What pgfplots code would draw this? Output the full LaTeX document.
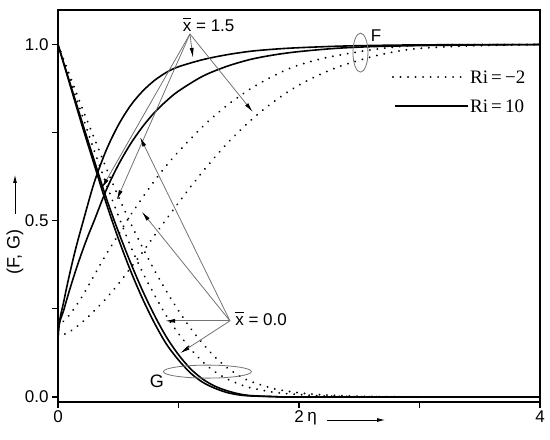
\documentclass[border=0pt]{standalone}
\usepackage{pgfplots}
\pgfplotsset{compat=1.18}
\usepackage{fontspec}
\setmainfont{Liberation Sans}
\newfontfamily\seriffont{Liberation Serif}
\usetikzlibrary{arrows.meta}
\tikzset{
  dotsty/.style={line width=2.1pt, dash pattern=on 0.01pt off 7.5pt, line cap=round, black},
  solsty/.style={line width=1.6pt, black},
  ann/.style={line width=0.8pt, black!55, -{Latex[length=10pt,width=4pt,color=black]}},
}
\newcommand{\xbar}{$\overline{\mbox{x}\vphantom{X}}$}
\begin{document}
\begin{tikzpicture}
\begin{axis}[
  width=482pt, height=392pt, scale only axis,
  xmin=0, xmax=4, ymin=-0.0142, ymax=1.098,
  axis line style={line width=1.6pt},
  xtick={0,1,2,3,4}, xticklabels={0,,2,,4},
  ytick={0,0.25,0.5,0.75,1}, yticklabels={0.0,,0.5,,1.0},
  tick align=outside, xtick pos=lower, ytick pos=left,
  major tick length=6pt,
  tick style={line width=1.2pt, black},
  every tick label/.append style={font=\fontsize{17}{20}\selectfont},
  xticklabel style={yshift=1pt},
  clip=true,
]
% Ri=10, F (solid)
\addplot[solsty, smooth] coordinates {(0,0) (0.003,0.185) (0.05,0.2745) (0.1,0.354) (0.15,0.425) (0.21,0.5) (0.3,0.608) (0.4,0.70) (0.5,0.771) (0.6,0.826) (0.7,0.867) (0.8,0.898) (0.9,0.921) (1.0,0.937) (1.2,0.957) (1.4,0.971) (1.6,0.981) (1.8,0.987) (2.0,0.991) (2.4,0.996) (3.0,0.999) (4,1)};
\addplot[solsty, smooth] coordinates {(0,0) (0.003,0.185) (0.05,0.249) (0.1,0.308) (0.15,0.362) (0.2,0.412) (0.25,0.458) (0.3,0.5) (0.4,0.587) (0.5,0.658) (0.6,0.717) (0.7,0.766) (0.8,0.807) (0.9,0.84) (1.0,0.868) (1.2,0.91) (1.4,0.938) (1.6,0.958) (1.8,0.971) (2.0,0.98) (2.3,0.989) (2.6,0.994) (3.0,0.997) (3.5,0.999) (4,1)};
% Ri=10, G (solid)
\addplot[solsty, smooth] coordinates {(0,1) (0.1,0.885) (0.2,0.77) (0.3,0.66) (0.4,0.55) (0.5,0.45) (0.6,0.36) (0.7,0.28) (0.8,0.21) (0.9,0.15) (1.0,0.105) (1.1,0.068) (1.2,0.042) (1.3,0.025) (1.4,0.013) (1.5,0.006) (1.6,0.003) (1.8,0.001) (2.0,0) (4.0,0)};
\addplot[solsty, smooth] coordinates {(0,1) (0.1,0.89) (0.2,0.78) (0.3,0.672) (0.4,0.565) (0.5,0.47) (0.6,0.383) (0.7,0.303) (0.8,0.232) (0.9,0.17) (1.0,0.12) (1.1,0.08) (1.2,0.051) (1.3,0.031) (1.4,0.018) (1.5,0.009) (1.6,0.004) (1.8,0.001) (2.0,0) (4,0)};
% Ri=-2, F (dotted)
\addplot[dotsty, smooth] coordinates {(0,0.2) (0.1,0.235) (0.2,0.285) (0.3,0.345) (0.4,0.405) (0.5,0.46) (0.6,0.515) (0.7,0.565) (0.8,0.613) (0.9,0.657) (1.0,0.696) (1.1,0.732) (1.2,0.767) (1.3,0.798) (1.4,0.827) (1.5,0.852) (1.6,0.875) (1.7,0.895) (1.8,0.913) (1.9,0.929) (2.0,0.942) (2.2,0.961) (2.4,0.974) (2.6,0.985) (2.8,0.993) (3.0,0.998) (3.5,1) (4,1)};
\addplot[dotsty, smooth] coordinates {(0,0.17) (0.1,0.186) (0.2,0.212) (0.3,0.244) (0.4,0.28) (0.5,0.32) (0.6,0.365) (0.7,0.41) (0.8,0.458) (0.9,0.505) (1.0,0.551) (1.1,0.596) (1.2,0.639) (1.3,0.68) (1.4,0.718) (1.5,0.753) (1.6,0.785) (1.7,0.814) (1.8,0.84) (1.9,0.864) (2.0,0.885) (2.1,0.903) (2.2,0.919) (2.3,0.933) (2.4,0.945) (2.6,0.965) (2.8,0.98) (3.0,0.989) (3.4,0.996) (4,1)};
% Ri=-2, G (dotted)
\addplot[dotsty, smooth] coordinates {(0,1) (0.1,0.9) (0.2,0.8) (0.3,0.7) (0.4,0.605) (0.5,0.515) (0.6,0.43) (0.7,0.355) (0.8,0.29) (0.9,0.23) (1.0,0.18) (1.1,0.137) (1.2,0.1) (1.3,0.072) (1.4,0.052) (1.5,0.037) (1.6,0.026) (1.8,0.013) (2.0,0.007) (2.2,0.003) (2.5,0.001) (3,0)};
\addplot[dotsty, smooth] coordinates {(0,1) (0.1,0.91) (0.2,0.82) (0.3,0.735) (0.4,0.65) (0.5,0.57) (0.6,0.495) (0.7,0.425) (0.8,0.36) (0.9,0.3) (1.0,0.245) (1.1,0.195) (1.2,0.152) (1.3,0.114) (1.4,0.084) (1.5,0.061) (1.6,0.044) (1.8,0.023) (2.0,0.012) (2.2,0.006) (2.5,0.002) (3,0)};
% annotations x=1.5
\draw[ann] (axis cs:1.095,1.03) -- (axis cs:1.12,0.962);
\draw[ann] (axis cs:1.095,1.03) -- (axis cs:1.618,0.808);
\draw[ann] (axis cs:1.095,1.03) -- (axis cs:0.363,0.592);
\draw[ann] (axis cs:1.095,1.03) -- (axis cs:0.487,0.559);
\node[anchor=west, font=\fontsize{17}{20}\selectfont, inner sep=0pt] at (axis cs:1.035,1.057) {\xbar\ = 1.5};
% annotations x=0.0
\draw[ann] (axis cs:1.427,0.216) -- (axis cs:0.888,0.216);
\draw[ann] (axis cs:1.427,0.216) -- (axis cs:1.012,0.124);
\draw[ann] (axis cs:1.427,0.216) -- (axis cs:0.695,0.526);
\draw[ann] (axis cs:1.427,0.216) -- (axis cs:0.68,0.738);
\node[anchor=west, font=\fontsize{17}{20}\selectfont, inner sep=0pt] at (axis cs:1.47,0.222) {\xbar\ = 0.0};
% ellipses
\draw[line width=0.8pt, black!55] (axis cs:2.51,0.977) ellipse [x radius=7.5pt, y radius=19.5pt];
\node[font=\fontsize{17}{20}\selectfont] at (axis cs:2.64,1.025) {F};
\draw[line width=0.8pt, black!55] (axis cs:1.24,0.072) ellipse [x radius=44pt, y radius=6.5pt];
\node[font=\fontsize{18}{21}\selectfont] at (axis cs:0.82,0.045) {G};
% legend
\draw[dotsty] (axis cs:2.78,0.908) -- (axis cs:3.40,0.908);
\node[anchor=west, font=\seriffont\fontsize{19}{22}\selectfont, inner sep=1pt] at (axis cs:3.41,0.908) {Ri\,=\,−2};
\draw[solsty] (axis cs:2.80,0.826) -- (axis cs:3.40,0.826);
\node[anchor=west, font=\seriffont\fontsize{19}{22}\selectfont, inner sep=1pt] at (axis cs:3.41,0.826) {Ri\,=\,10};
\end{axis}
% axis labels
\node[rotate=90, font=\fontsize{18}{21}\selectfont] at ([shift={(-43pt,150pt)}]current axis.south west) {(F, G)};
\draw[line width=0.8pt, -{Latex[length=8pt,width=4pt]}] ([shift={(-43pt,188pt)}]current axis.south west) -- ++(0,39pt);
\node[font=\fontsize{17}{20}\selectfont] at ([shift={(254pt,-17pt)}]current axis.south west) {η};
\draw[line width=0.8pt, -{Latex[length=8pt,width=4pt]}] ([shift={(269pt,-18pt)}]current axis.south west) -- ++(58pt,0);
\pgfresetboundingbox
\path ([shift={(-58pt,-37pt)}]current axis.south west) rectangle ([shift={(10pt,10pt)}]current axis.north east);
\end{tikzpicture}
\end{document}
